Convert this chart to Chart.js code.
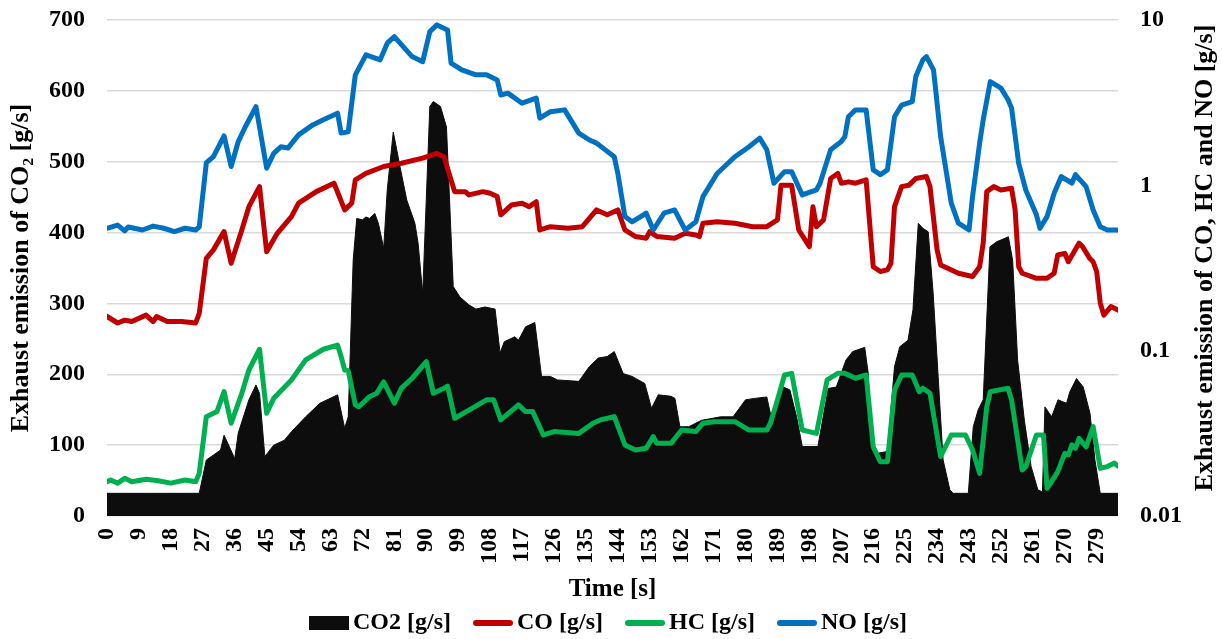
<!DOCTYPE html>
<html>
<head>
<meta charset="utf-8">
<script src="https://cdn.jsdelivr.net/npm/chart.js@4.4.1/dist/chart.umd.min.js"></script>
<style>
  html, body { margin: 0; padding: 0; background: #fff; }
  #wrap { width: 1222px; height: 639px; }
</style>
</head>
<body>
<div id="wrap"><canvas id="emissionChart" width="1222" height="639"></canvas></div>
<script>
// tick labels
const xTicks = [0, 9, 18, 27, 36, 45, 54, 63, 72, 81, 90, 99, 108, 117, 126, 135, 144, 153, 162, 171, 180, 189, 198, 207, 216, 225, 234, 243, 252, 261, 270, 279];
const rightTicks = [0.01, 0.1, 1, 10];

// CO2 [g/s] (left axis)
const co2Time = [0,26,28,30,32,33,36,37,40,42,43,44.5,47,50,52,56,60,65,67,68,69.4,70.4,72,73,74,75.5,76.5,78,79,80.7,82.6,84.5,86.8,87.7,89,91,92,94,95.7,97.6,99.5,102,104,106.5,109.4,110.8,112,115,116,118,120.6,122.5,125,127,133,136,138.5,141,143,145.5,148,151.6,153.5,155.4,159,160.1,161.5,164,167.6,173,176.5,180,182.6,186,187.3,188,190.6,192.5,194.4,196,200.4,203.3,205.6,208.3,210.2,213.6,214.6,215.5,216.5,220,222,223.5,225.8,227.2,228.7,230,231.5,232.9,234.3,235.7,237.6,238.5,242.8,244.2,245.6,247,248.9,250.8,254.1,255.3,256.7,258.6,260.5,262.4,263.7,264.4,266.3,268.1,270.5,271.4,273.3,275.2,277.1,278.5,280,285];
const co2Vals = [32,32,79,86,93,114,81,117,164,185,173,84,100,107,119,140,159,171,124,140,361,420,418,422,420,427,413,378,460,542,493,446,413,385,314,578,585,578,549,324,309,298,292,295,292,230,246,253,248,267,273,197,197,192,190,211,223,225,232,201,197,187,152,171,169,166,126,126,135,140,140,164,166,168,138,150,182,178,140,98,98,180,182,220,232,238,201,98,88,91,211,239,248,291,413,406,401,314,197,79,37,32,32,126,150,164,380,387,394,361,220,135,70,37,34,154,140,164,159,175,194,182,145,79,32,32];

// CO [g/s] (right axis)
const coTime = [0,3,5,7,11,13,14,17,21,25,26,28,30,33,35,38,40,43,45,48,52,54,59,64,67,69,70,73,78,83,89,93,95,98,101,102,106,108,110,111,114,117,119,121,122,125,130,134,138,141,144,146,149,152,153,155,160,163,166,167,168,172,177,182,186,189,190,193,195,198,199,200,202,204,206,207,209,211,214,216,218,220,221,222,224,226,228,231,232,234,235,237,240,244,246,247,248,250,252,255,256,257,258,262,265,267,268,270,271,274,275,277,278,279,280,281,283,285];
const coVals = [0.161,0.147,0.153,0.150,0.164,0.150,0.161,0.150,0.150,0.147,0.168,0.362,0.407,0.525,0.338,0.537,0.743,0.982,0.397,0.513,0.647,0.78,0.916,1.03,0.71,0.78,1.08,1.18,1.30,1.36,1.46,1.56,1.49,0.916,0.916,0.875,0.916,0.895,0.855,0.663,0.76,0.78,0.743,0.796,0.537,0.562,0.55,0.562,0.71,0.663,0.71,0.537,0.49,0.479,0.525,0.49,0.479,0.513,0.501,0.49,0.59,0.602,0.59,0.562,0.562,0.618,1.00,1.00,0.537,0.426,0.743,0.562,0.618,1.10,1.18,1.03,1.05,1.03,1.08,0.322,0.301,0.308,0.338,0.743,0.982,1.00,1.10,1.13,0.982,0.407,0.33,0.315,0.294,0.281,0.322,0.447,0.916,0.982,0.938,0.959,0.71,0.322,0.294,0.274,0.274,0.294,0.379,0.388,0.345,0.447,0.426,0.362,0.345,0.30,0.194,0.164,0.185,0.176];

// HC [g/s] (right axis)
const hcTime = [0,1,3,5,7,11,14,18,22,25,26,28,31,33,35,38,40,43,45,47,52,56,61,65,66,67,68,70,71,74,76,78,81,83,86,90,92,95,96,98,103,107,109,111,116,118,120,123,126,133,137,139,143,146,149,152,154,155,159,162,166,168,171,177,181,186,187,189,191,193,196,200,203,206,208,211,214,216,218,220,222,224,227,229,230,232,235,238,242,244,246,248,249,254,255,258,259,262,264,265,266,268,270,271,272,273,274,276,278,280,282,284,285];
const hcVals = [0.0161,0.0165,0.0158,0.0169,0.0161,0.0167,0.0164,0.0158,0.0165,0.0161,0.0181,0.0399,0.0428,0.0565,0.0364,0.0552,0.0764,0.102,0.0418,0.0515,0.0665,0.0879,0.102,0.108,0.0921,0.0764,0.0757,0.047,0.0458,0.0527,0.0552,0.0648,0.0481,0.0593,0.0681,0.0857,0.0552,0.0593,0.0611,0.039,0.0449,0.0504,0.0504,0.0381,0.047,0.0428,0.0428,0.0309,0.0324,0.0316,0.0364,0.0381,0.0399,0.0269,0.0251,0.0257,0.0302,0.0275,0.0275,0.0331,0.0324,0.0364,0.0372,0.0372,0.0331,0.0331,0.0364,0.0504,0.0713,0.0729,0.0331,0.0316,0.0665,0.0729,0.0729,0.0681,0.0713,0.0262,0.0213,0.0213,0.0578,0.0713,0.0713,0.0565,0.0593,0.0552,0.0229,0.0309,0.0309,0.0251,0.0181,0.0458,0.0565,0.0593,0.0504,0.019,0.0199,0.0309,0.0309,0.0147,0.0158,0.0185,0.0239,0.0234,0.0269,0.0257,0.0295,0.0262,0.0347,0.0194,0.0199,0.0209,0.02];

// NO [g/s] (right axis)
const noTime = [0,3,5,6,10,13,16,19,22,25,26,28,30,33,35,37,39,42,45,47,49,51,54,58,61,65,66,68,70,73,77,79,81,86,89,91,93,96,97,100,104,107,110,111,113,117,121,122,125,129,133,136,138,143,144,146,148,152,154,157,160,163,166,168,172,177,181,184,186,188,191,193,196,200,201,204,207,208,209,211,214,216,218,220,222,224,227,228,230,231,233,235,238,240,243,244,246,247,249,252,254,255,257,259,262,263,265,267,269,272,273,276,278,280,282,285];
const noVals = [0.55,0.575,0.53,0.56,0.537,0.567,0.55,0.525,0.55,0.537,0.56,1.37,1.49,1.99,1.30,1.84,2.26,2.99,1.27,1.56,1.71,1.68,2.02,2.32,2.49,2.73,2.07,2.11,4.66,6.15,5.74,7.24,7.94,6.01,5.60,8.51,9.34,8.71,5.48,4.99,4.66,4.66,4.34,3.52,3.61,3.14,3.37,2.55,2.79,2.86,2.07,1.88,1.80,1.49,1.18,0.647,0.602,0.678,0.537,0.678,0.71,0.537,0.602,0.855,1.18,1.49,1.71,1.93,1.64,1.03,1.21,1.21,0.875,0.938,1.03,1.64,1.84,1.97,2.60,2.86,2.86,1.24,1.16,1.24,2.60,3.06,3.21,4.55,5.74,6.01,4.99,1.97,0.78,0.59,0.537,0.855,1.80,2.49,4.24,3.87,3.29,2.93,1.36,0.938,0.663,0.55,0.647,0.895,1.13,1.03,1.16,0.982,0.71,0.562,0.537,0.537];

const FONT = '"Liberation Serif", "Times New Roman", serif';

function toPoints(times, vals) {
  return times.map((t, i) => ({ x: t, y: vals[i] }));
}

// right axis title (reads bottom to top) and the legend row
const extrasPlugin = {
  id: "extras",
  afterDraw(chart) {
    const { ctx, chartArea } = chart;

    ctx.save();
    ctx.font = `bold 26px ${FONT}`;
    ctx.fillStyle = "#000";
    ctx.textAlign = "center";
    ctx.textBaseline = "middle";
    ctx.translate(chart.width - 17, (chartArea.top + chartArea.bottom) / 2 - 10);
    ctx.rotate(-Math.PI / 2);
    ctx.fillText("Exhaust emission of CO, HC and NO [g/s]", 0, 0);
    ctx.restore();

    ctx.save();
    ctx.font = `bold 24px ${FONT}`;
    ctx.textBaseline = "middle";
    ctx.textAlign = "left";
    const datasets = chart.data.datasets;
    const swatch = 40, gapText = 4, gapItem = 22, y = 623;
    let total = 0;
    datasets.forEach((d, i) => {
      total += swatch + gapText + ctx.measureText(d.label).width;
      if (i < datasets.length - 1) total += gapItem;
    });
    let x = 608 - total / 2;
    datasets.forEach((d) => {
      if (d.fill) {
        ctx.fillStyle = d.backgroundColor;
        ctx.fillRect(x, y - 7, swatch, 14);
      } else {
        ctx.strokeStyle = d.borderColor;
        ctx.lineWidth = 6;
        ctx.lineCap = "round";
        ctx.beginPath();
        ctx.moveTo(x + 3, y);
        ctx.lineTo(x + swatch - 3, y);
        ctx.stroke();
      }
      ctx.fillStyle = "#000";
      ctx.fillText(d.label, x + swatch + gapText, y);
      x += swatch + gapText + ctx.measureText(d.label).width + gapItem;
    });
    ctx.restore();
  },
};

const tickFont = { family: FONT, size: 24, weight: "bold" };

// keep the vertical axes from pushing the plot area down
function fixVertical(width) {
  return (scale) => {
    scale.width = width;
    scale.paddingTop = 0;
    scale.paddingBottom = 0;
  };
}

const ctx = document.getElementById("emissionChart").getContext("2d");
const emissionChart = new Chart(ctx, {
  type: "line",
  data: {
    datasets: [
      {
        label: "CO2 [g/s]",
        data: toPoints(co2Time, co2Vals),
        yAxisID: "y",
        fill: "origin",
        backgroundColor: "#0d0d0d",
        borderColor: "#0d0d0d",
        borderWidth: 1,
        pointRadius: 0,
        order: 4,
      },
      {
        label: "CO [g/s]",
        data: toPoints(coTime, coVals),
        yAxisID: "y1",
        fill: false,
        borderColor: "#c00000",
        borderWidth: 5,
        pointRadius: 0,
        order: 3,
      },
      {
        label: "HC [g/s]",
        data: toPoints(hcTime, hcVals),
        yAxisID: "y1",
        fill: false,
        borderColor: "#00b050",
        borderWidth: 5,
        pointRadius: 0,
        order: 2,
      },
      {
        label: "NO [g/s]",
        data: toPoints(noTime, noVals),
        yAxisID: "y1",
        fill: false,
        borderColor: "#0070c0",
        borderWidth: 5,
        pointRadius: 0,
        order: 1,
      },
    ],
  },
  options: {
    responsive: false,
    animation: false,
    layout: { padding: { top: 20, left: 6, right: 0, bottom: 34 } },
    elements: {
      line: { tension: 0, borderJoinStyle: "round", borderCapStyle: "round" },
    },
    plugins: {
      legend: { display: false },
      tooltip: { enabled: false },
    },
    scales: {
      x: {
        type: "linear",
        min: 0,
        max: 285,
        afterBuildTicks: (scale) => {
          scale.ticks = xTicks.map((v) => ({ value: v }));
        },
        afterFit: (scale) => {
          scale.height = 89;
        },
        grid: { display: false, drawTicks: false },
        border: { display: false },
        ticks: {
          autoSkip: false,
          minRotation: 90,
          maxRotation: 90,
          padding: 12,
          color: "#000",
          font: tickFont,
        },
        title: {
          display: true,
          text: "Time [s]",
          color: "#000",
          padding: 0,
          font: { family: FONT, size: 25, weight: "bold" },
        },
      },
      y: {
        position: "left",
        min: 0,
        max: 700,
        afterFit: fixVertical(101),
        grid: { color: "#d9d9d9", lineWidth: 1.5, drawTicks: false },
        border: { display: false },
        ticks: { stepSize: 100, padding: 22, color: "#000", font: tickFont },
        title: {
          display: true,
          text: "Exhaust emission of CO\u2082 [g/s]",
          color: "#000",
          padding: 0,
          font: { family: FONT, size: 26, weight: "bold" },
        },
      },
      y1: {
        type: "logarithmic",
        position: "right",
        min: 0.01,
        max: 10,
        afterBuildTicks: (scale) => {
          scale.ticks = rightTicks.map((v) => ({ value: v }));
        },
        afterFit: fixVertical(104),
        grid: { display: false, drawTicks: false },
        border: { display: false },
        ticks: {
          padding: 22,
          color: "#000",
          font: tickFont,
          callback: (value) => String(value),
        },
      },
    },
  },
  plugins: [extrasPlugin],
});
</script>
</body>
</html>
